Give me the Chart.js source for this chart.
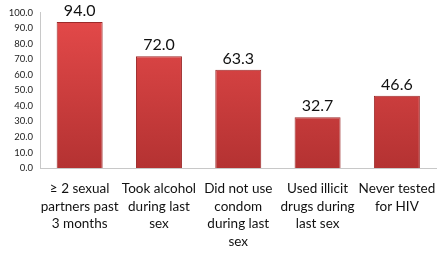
<!DOCTYPE html>
<html>
<head>
<meta charset="utf-8">
<script src="https://cdn.jsdelivr.net/npm/chart.js@4"></script>
<style>
  html, body { margin: 0; padding: 0; background: #fff; }
  #wrap { width: 448px; height: 254px; }
</style>
</head>
<body>
<div id="wrap"><canvas id="c" width="448" height="254"></canvas></div>
<script>
const categories = [
  ['\u2265 2 sexual', 'partners past', '3 months'],
  ['Took alcohol', 'during last', 'sex'],
  ['Did not use', 'condom', 'during last', 'sex'],
  ['Used illicit', 'drugs during', 'last sex'],
  ['Never tested', 'for HIV']
];
const percentages = [94.0, 72.0, 63.3, 32.7, 46.6];
const yTicks = [0, 10, 20, 30, 40, 50, 60, 70, 80, 90, 100];

// value labels above the bars
const valueLabels = {
  id: 'valueLabels',
  afterDatasetsDraw(chart) {
    const ctx = chart.ctx;
    const meta = chart.getDatasetMeta(0);
    ctx.save();
    ctx.font = '16px Lato, sans-serif';
    ctx.fillStyle = '#111';
    ctx.textAlign = 'center';
    ctx.textBaseline = 'bottom';
    meta.data.forEach((bar, i) => {
      ctx.fillText(percentages[i].toFixed(1), bar.x, bar.y - 3);
    });
    ctx.restore();
  }
};

function barFill(context) {
  const chart = context.chart;
  const area = chart.chartArea;
  if (!area) return '#d43c3c';
  const g = chart.ctx.createLinearGradient(0, area.top, 0, area.bottom);
  g.addColorStop(0, '#e54a4a');
  g.addColorStop(1, '#b43232');
  return g;
}

new Chart(document.getElementById('c'), {
  type: 'bar',
  data: {
    labels: categories,
    datasets: [{
      data: percentages,
      backgroundColor: barFill,
      borderColor: '#9c2a2a',
      borderWidth: 1,
      barPercentage: 0.58,
      categoryPercentage: 1.0
    }]
  },
  options: {
    responsive: false,
    animation: false,
    layout: { padding: { top: 11, right: 8, left: 4, bottom: 0 } },
    plugins: { legend: { display: false }, tooltip: { enabled: false } },
    scales: {
      x: {
        afterFit(axis) { axis.height = 86; },
        grid: { display: false, drawTicks: false },
        border: { color: '#c8c8c8', width: 1 },
        ticks: {
          color: '#111',
          font: { family: 'Lato', size: 13.5, lineHeight: 1.3 },
          maxRotation: 0,
          autoSkip: false,
          padding: 12
        }
      },
      y: {
        min: 0,
        max: 100,
        afterBuildTicks(axis) { axis.ticks = yTicks.map(v => ({ value: v })); },
        afterFit(axis) { axis.width = 36; },
        grid: { display: false, drawTicks: false },
        border: { color: '#c8c8c8', width: 1 },
        ticks: {
          color: '#222',
          font: { family: 'Lato', size: 9.5 },
          padding: 7,
          callback: v => v.toFixed(1)
        }
      }
    }
  },
  plugins: [valueLabels]
});
</script>
</body>
</html>
